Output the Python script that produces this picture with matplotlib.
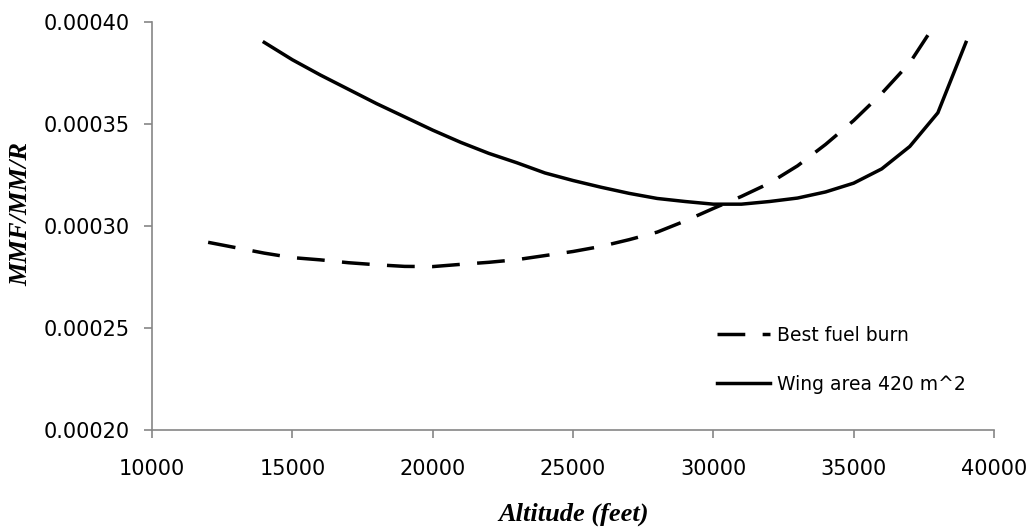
import matplotlib
matplotlib.use("Agg")
import matplotlib.pyplot as plt
import numpy as np

# высота полёта, футы
alt_fuel = [12000, 14000, 15000, 16000, 17000, 18000, 19000, 20000, 21000, 22000,
            23000, 24000, 25000, 26000, 27000, 28000, 29000, 30000, 31000, 32000,
            33000, 34000, 35000, 36000, 37000, 38000]
mmf_fuel = [0.000292, 0.0002867, 0.0002845, 0.0002834, 0.000282, 0.000281, 0.0002802,
            0.0002801, 0.0002812, 0.0002822, 0.0002835, 0.0002855, 0.0002875, 0.00029,
            0.0002933, 0.000297, 0.0003025, 0.0003086, 0.0003145, 0.000321, 0.0003295,
            0.00034, 0.0003517, 0.000365, 0.00038, 0.000401]

alt_wing = [14000, 15000, 16000, 17000, 18000, 19000, 20000, 21000, 22000, 23000,
            24000, 25000, 26000, 27000, 28000, 29000, 30000, 31000, 32000, 33000,
            34000, 35000, 36000, 37000, 38000, 39000]
mmf_wing = [0.00039, 0.0003815, 0.000374, 0.000367, 0.00036, 0.0003535, 0.000347,
            0.000341, 0.0003356, 0.000331, 0.000326, 0.0003223, 0.000319, 0.000316,
            0.0003135, 0.000312, 0.0003107, 0.0003107, 0.000312, 0.0003137, 0.0003167,
            0.000321, 0.000328, 0.000339, 0.0003555, 0.00039]

labels = ["Best fuel burn", "Wing area 420 m^2"]
x_ticks = [10000, 15000, 20000, 25000, 30000, 35000, 40000]
y_ticks = [0.00020, 0.00025, 0.00030, 0.00035, 0.00040]

W, H = 1032, 531
GRAY = "#868686"


def main():
    fig = plt.figure(figsize=(W / 100, H / 100), dpi=100)
    ax = fig.add_axes([152 / W, 1 - 430 / H, (994 - 152) / W, (430 - 22) / H])

    # две кривые
    ax.plot(alt_fuel, mmf_fuel, color="black", lw=2.5, linestyle=(0, (8, 5)),
            label=labels[0], dash_capstyle="butt")
    ax.plot(alt_wing, mmf_wing, color="black", lw=2.5, label=labels[1])

    ax.set_xlim(10000, 40000)
    ax.set_ylim(0.0002, 0.0004)
    ax.set_xticks(x_ticks)
    ax.set_yticks(y_ticks)
    ax.set_xticklabels([str(v) for v in x_ticks])
    ax.set_yticklabels(["%.5f" % v for v in y_ticks])

    # оси серые, без рамки сверху и справа
    for side in ["top", "right"]:
        ax.spines[side].set_visible(False)
    for side in ["left", "bottom"]:
        ax.spines[side].set_color(GRAY)
        ax.spines[side].set_linewidth(1.2)
    ax.tick_params(axis="both", direction="out", color=GRAY, width=1.2, length=6,
                   labelsize=15, labelcolor="black")
    ax.tick_params(axis="x", pad=15)
    ax.tick_params(axis="y", pad=10)

    fig.text(21 / W, 1 - 214 / H, "MMF/MM/R", rotation=90, ha="center", va="center",
             family="Liberation Serif", style="italic", weight="bold", fontsize=19)
    fig.text(574 / W, 1 - 514 / H, "Altitude (feet)", ha="center", va="center",
             family="Liberation Serif", style="italic", weight="bold", fontsize=19)

    ax.legend(loc="upper left", bbox_to_anchor=(717 / W, 1 - 326 / H),
              bbox_transform=fig.transFigure, frameon=False, fontsize=13.5,
              borderpad=0, borderaxespad=0, handlelength=2.8, handletextpad=0.4,
              labelspacing=1.6)

    fig.savefig("out.png", dpi=100)


if __name__ == "__main__":
    main()
